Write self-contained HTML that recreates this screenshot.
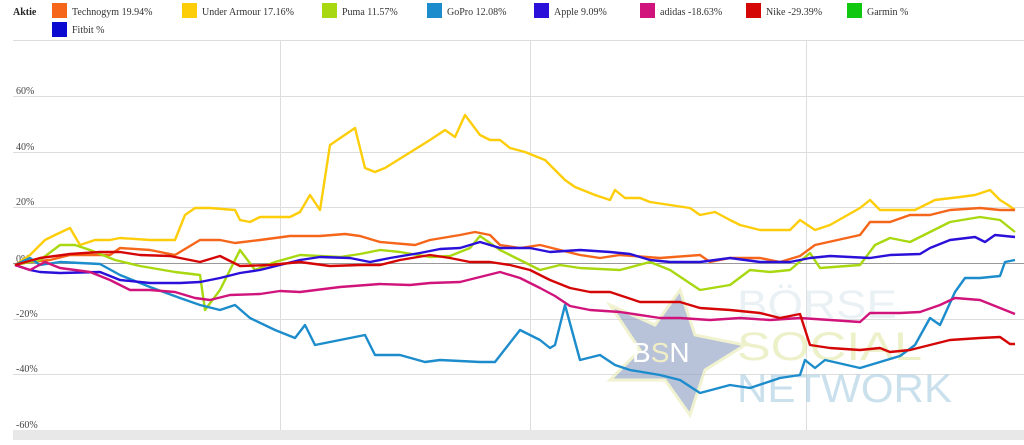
<!DOCTYPE html><html><head><meta charset="utf-8"><style>
body{margin:0;background:#fff;width:1024px;height:440px;overflow:hidden;font-family:"Liberation Serif",serif}
</style></head><body>
<svg width="1024" height="440" xmlns="http://www.w3.org/2000/svg" font-family="Liberation Serif, serif">
<rect width="1024" height="440" fill="#fff"/>
<g font-size="10" fill="#333">
<text x="13" y="15" font-weight="bold" fill="#222">Aktie</text>
<rect x="52" y="3" width="15" height="15" fill="#f5661a"/><text x="72" y="15">Technogym  19.94%</text>
<rect x="182" y="3" width="15" height="15" fill="#fecd0a"/><text x="202" y="15">Under Armour  17.16%</text>
<rect x="322" y="3" width="15" height="15" fill="#a8d810"/><text x="342" y="15">Puma  11.57%</text>
<rect x="427" y="3" width="15" height="15" fill="#1c8ccc"/><text x="447" y="15">GoPro  12.08%</text>
<rect x="534" y="3" width="15" height="15" fill="#2a10d8"/><text x="554" y="15">Apple  9.09%</text>
<rect x="640" y="3" width="15" height="15" fill="#d0147c"/><text x="660" y="15">adidas  -18.63%</text>
<rect x="746" y="3" width="15" height="15" fill="#d40606"/><text x="766" y="15">Nike  -29.39%</text>
<rect x="847" y="3" width="15" height="15" fill="#10c810"/><text x="867" y="15">Garmin  %</text>
<rect x="52" y="22" width="15" height="15" fill="#0a0ad0"/><text x="72" y="33">Fitbit  %</text>
</g>
<g stroke="#ddd" stroke-width="1">
<line x1="13" y1="40.5" x2="1024" y2="40.5"/>
<line x1="13" y1="96.5" x2="1024" y2="96.5"/>
<line x1="13" y1="152.5" x2="1024" y2="152.5"/>
<line x1="13" y1="207.5" x2="1024" y2="207.5"/>
<line x1="13" y1="319.5" x2="1024" y2="319.5"/>
<line x1="13" y1="374.5" x2="1024" y2="374.5"/>
<line x1="280.5" y1="40" x2="280.5" y2="430"/>
<line x1="530.5" y1="40" x2="530.5" y2="430"/>
<line x1="806.5" y1="40" x2="806.5" y2="430"/>
</g>
<line x1="13" y1="263.5" x2="1024" y2="263.5" stroke="#999"/>
<rect x="13" y="430" width="1011" height="10" fill="#e8e8e8"/>
<g font-size="10" fill="#444">
<text x="16" y="94">60%</text><text x="16" y="150">40%</text><text x="16" y="205">20%</text>
<text x="16" y="262">0%</text><text x="16" y="317">-20%</text><text x="16" y="372">-40%</text><text x="16" y="428">-60%</text>
</g>
<g opacity="0.6">
<polygon points="680,290 695,335 745,345 705,370 690,415 665,380 610,380 640,350 610,305 655,325" fill="#8a9cc0" stroke="#e8eab0" stroke-width="3"/>
<text x="632" y="362" font-family="Liberation Sans, sans-serif" font-size="28" fill="#fff">B<tspan fill="#e8e4a0">S</tspan>N</text>
<text x="737" y="318" font-family="Liberation Sans, sans-serif" font-size="40" fill="#dce8ef" textLength="160" lengthAdjust="spacingAndGlyphs">BÖRSE</text>
<text x="737" y="360" font-family="Liberation Sans, sans-serif" font-size="40" fill="#e2e8a8" textLength="185" lengthAdjust="spacingAndGlyphs">SOCIAL</text>
<text x="737" y="402" font-family="Liberation Sans, sans-serif" font-size="40" fill="#a8cce0" textLength="215" lengthAdjust="spacingAndGlyphs">NETWORK</text>
</g>
<g fill="none" stroke-width="2.4" stroke-linejoin="round">
<polyline stroke="#fecd0a" points="15,265 30,255 45,240 55,235 70,228 80,245 95,240 110,240 120,238 150,240 175,240 185,215 195,208 210,208 235,210 240,220 250,222 260,217 290,217 300,212 310,195 320,210 330,145 355,128 365,168 375,172 385,168 430,140 445,130 455,137 465,115 480,135 490,140 500,140 510,148 525,152 545,160 555,170 565,180 575,187 595,195 610,200 615,190 625,198 640,198 650,202 690,208 700,215 715,212 730,220 740,225 760,230 790,230 800,220 815,230 830,225 860,208 870,200 880,210 900,210 915,210 935,200 960,197 975,195 990,190 1000,200 1008,205 1015,210"/>
<polyline stroke="#f5661a" points="15,265 30,262 50,260 70,255 95,255 110,255 120,248 150,250 175,255 200,240 220,240 235,243 260,240 290,236 320,236 345,234 360,236 380,242 415,245 430,240 460,235 475,232 490,235 500,245 520,248 540,245 560,250 580,255 600,258 620,255 660,258 700,255 710,262 730,258 760,258 780,262 800,256 815,245 860,235 870,222 890,222 910,215 930,215 950,210 980,208 1000,210 1015,210"/>
<polyline stroke="#a8d810" points="15,265 40,260 60,245 75,245 90,250 115,260 140,266 175,272 200,275 205,310 220,290 240,250 255,270 275,262 300,255 340,257 360,254 380,250 400,252 430,257 450,256 470,248 480,236 500,250 520,260 540,270 560,265 580,268 620,270 650,262 670,270 700,290 730,285 750,270 770,272 790,270 810,253 820,268 860,265 875,245 890,238 910,242 930,232 950,222 980,217 1000,220 1015,232"/>
<polyline stroke="#1c8ccc" points="15,265 30,258 40,265 60,262 100,264 120,275 150,287 180,298 200,305 220,310 235,305 250,318 275,330 295,338 305,325 315,345 350,338 365,335 375,355 400,355 425,362 440,360 480,362 495,362 520,330 540,340 550,348 555,345 565,305 580,360 600,355 615,365 630,370 660,375 680,380 700,393 730,385 750,388 780,378 800,375 805,360 815,368 825,360 860,368 900,356 915,345 930,318 940,325 955,292 965,278 980,278 1000,276 1005,262 1015,260"/>
<polyline stroke="#2a10d8" points="15,265 30,270 40,272 60,273 100,272 120,280 150,283 180,283 200,282 220,278 240,273 260,270 280,265 300,260 320,257 350,258 370,262 390,258 420,253 440,249 460,248 480,242 500,248 530,248 550,252 580,250 610,252 630,254 650,260 670,262 700,262 730,258 760,262 790,262 810,258 830,256 870,258 890,255 920,254 930,248 950,240 975,237 985,242 995,235 1015,237"/>
<polyline stroke="#d0147c" points="15,265 30,270 45,262 60,268 90,272 110,280 130,290 150,290 175,292 195,298 210,300 230,295 260,294 280,291 300,292 340,287 380,284 410,285 430,283 460,282 500,272 520,278 540,288 555,296 570,306 590,310 620,312 660,318 680,318 710,320 740,318 770,320 800,318 830,320 860,322 870,313 900,313 920,312 940,305 955,298 980,300 1000,308 1015,314"/>
<polyline stroke="#d40606" points="15,265 40,258 70,254 100,252 120,252 140,255 170,256 200,262 220,256 240,266 270,265 300,262 330,266 360,265 380,265 400,260 430,255 450,258 470,262 490,262 510,265 530,270 550,280 570,288 590,292 610,292 640,302 660,302 680,302 700,308 730,310 760,313 780,318 800,314 810,345 830,348 860,350 880,348 890,352 910,350 930,345 950,340 980,338 1000,337 1010,344 1015,344"/>
</g>
</svg>
</body></html>
